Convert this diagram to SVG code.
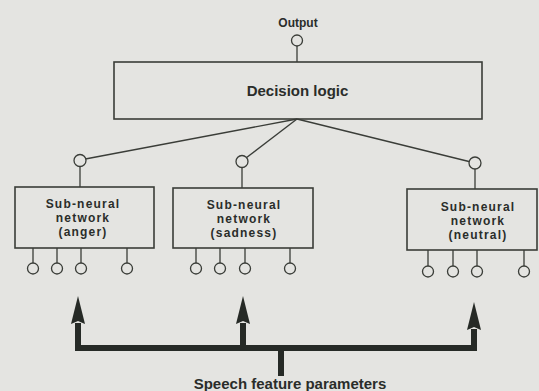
<svg xmlns="http://www.w3.org/2000/svg" width="539" height="391" viewBox="0 0 539 391">
<defs>
<style>
.bg{fill:#e4e4e1}
.box{fill:none;stroke:#3a3d38;stroke-width:1.6}
.ln{stroke:#3a3d38;stroke-width:1.3;fill:none}
.pin{fill:#e4e4e1;stroke:#3a3d38;stroke-width:1.3}
.bus{stroke:#262a26;stroke-width:6;fill:none}
.t{font-family:"Liberation Sans",Arial,sans-serif;font-weight:bold;fill:#2a2d2a;text-anchor:middle}
.s{font-size:12px;letter-spacing:1.2px}
</style>
<marker id="ah" viewBox="0 0 28 14" markerWidth="28" markerHeight="14" refX="1" refY="7" orient="auto" markerUnits="userSpaceOnUse">
<path d="M0,0 L28,7 L0,14 L3,7 z" fill="#262a26"/>
</marker>
</defs>
<rect class="bg" x="0" y="0" width="539" height="391"/>

<g id="connectors">
<line class="ln" x1="297" y1="46" x2="297" y2="62"/>
<line class="ln" x1="297" y1="119" x2="80" y2="160"/>
<line class="ln" x1="297" y1="119" x2="242" y2="161"/>
<line class="ln" x1="297" y1="119" x2="475" y2="163"/>
<line class="ln" x1="80" y1="166" x2="80" y2="187"/>
<line class="ln" x1="242" y1="167" x2="242" y2="188"/>
<line class="ln" x1="475" y1="169" x2="475" y2="189"/>
<path class="ln" d="M33,248V263M57,248V263M81,248V263M127,248V263"/>
<path class="ln" d="M196,248V263M220,248V263M245,248V263M290,248V263"/>
<path class="ln" d="M428,250V266M453,250V266M477,250V266M524,250V266"/>
<path class="bus" d="M78,351V348H474V351"/>
<path class="bus" d="M78,348V323" marker-end="url(#ah)"/>
<path class="bus" d="M243,348V323" marker-end="url(#ah)"/>
<path class="bus" d="M474,348V329" marker-end="url(#ah)"/>
<path class="bus" d="M281,348V376"/>
</g>

<g id="output">
<text class="t" x="298" y="27" font-size="12">Output</text>
<circle class="pin" cx="297" cy="40.5" r="5.5"/>
</g>

<g id="decision">
<rect class="box" x="114" y="62" width="368" height="57"/>
<text class="t" x="297.5" y="96" font-size="15">Decision logic</text>
</g>

<g id="anger">
<circle class="pin" cx="80" cy="160.5" r="6"/>
<rect class="box" x="15" y="187" width="139" height="61"/>
<text class="t s" x="83" y="208">Sub-neural</text>
<text class="t s" x="83" y="222">network</text>
<text class="t s" x="83" y="236">(anger)</text>
<circle class="pin" cx="33" cy="268.5" r="5.5"/>
<circle class="pin" cx="57" cy="268.5" r="5.5"/>
<circle class="pin" cx="81" cy="268.5" r="5.5"/>
<circle class="pin" cx="127" cy="268.5" r="5.5"/>
</g>

<g id="sadness">
<circle class="pin" cx="242" cy="161.5" r="6"/>
<rect class="box" x="173" y="188" width="140" height="60"/>
<text class="t s" x="244" y="209">Sub-neural</text>
<text class="t s" x="244" y="223">network</text>
<text class="t s" x="244" y="237">(sadness)</text>
<circle class="pin" cx="196" cy="268.5" r="5.5"/>
<circle class="pin" cx="220" cy="268.5" r="5.5"/>
<circle class="pin" cx="245" cy="268.5" r="5.5"/>
<circle class="pin" cx="290" cy="268.5" r="5.5"/>
</g>

<g id="neutral">
<circle class="pin" cx="475" cy="163" r="6"/>
<rect class="box" x="407" y="189" width="130" height="61"/>
<text class="t s" x="478" y="211">Sub-neural</text>
<text class="t s" x="478" y="225">network</text>
<text class="t s" x="478" y="239">(neutral)</text>
<circle class="pin" cx="428" cy="271.5" r="5.5"/>
<circle class="pin" cx="453" cy="271.5" r="5.5"/>
<circle class="pin" cx="477" cy="271.5" r="5.5"/>
<circle class="pin" cx="524" cy="271.5" r="5.5"/>
</g>

<g id="speech">
<text class="t" x="290" y="389" font-size="15">Speech feature parameters</text>
</g>
</svg>
